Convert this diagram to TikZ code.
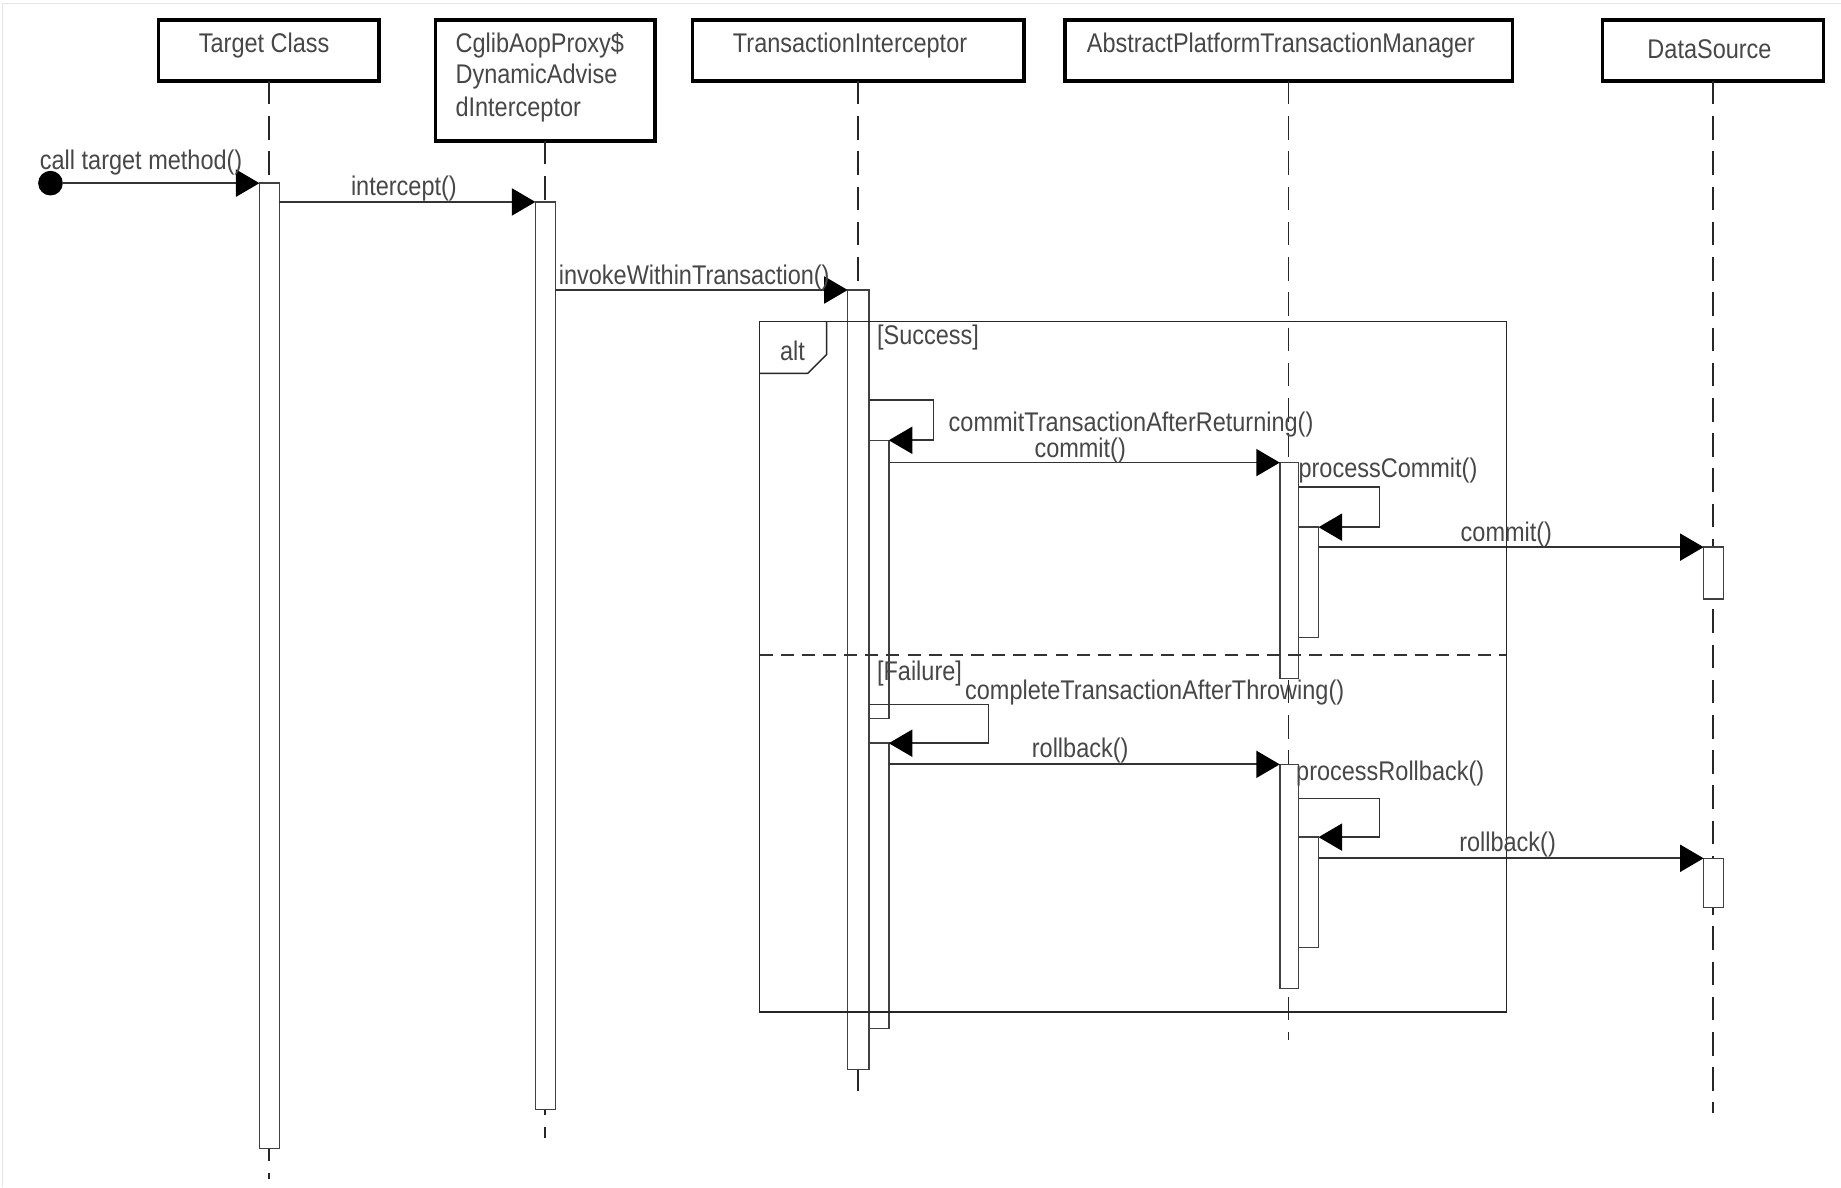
\documentclass[tikz,border=0pt]{standalone}
\usepackage{fontspec}
\setmainfont{Liberation Sans}[FakeStretch=0.87]
\usetikzlibrary{arrows.meta}
\begin{document}
\begin{tikzpicture}[x=1pt,y=-1pt,
  every node/.style={inner sep=0pt, outer sep=0pt},
  txt/.style={font=\fontsize{23}{27}\selectfont, text=black!72, yshift=-1.5pt},
  head/.style={draw=black, line width=3pt, fill=white, anchor=north west},
  bar/.style={draw=black!75, line width=1.3pt, fill=white, anchor=north west},
  life/.style={draw=black!85, line width=1.5pt, dash pattern=on 20pt off 10pt},
  msg/.style={draw=black!80, line width=1.5pt, -{Triangle[length=20pt,width=23pt,black]}},
  frm/.style={draw=black!85, line width=1.2pt},
  divider/.style={draw=black!80, line width=1.5pt, dash pattern=on 11pt off 7pt},
]
\useasboundingbox (0,0) rectangle (1568,1011);
\fill[white] (0,0) rectangle (1568,1011);
\draw[black!10, line width=1pt] (2,1011) -- (2,3) -- (1568,3);

% headers
\node[head, minimum width=188pt, minimum height=52pt] (tc) at (135,17) {};
\node[head, minimum width=187pt, minimum height=103pt] (cg) at (371,17) {};
\node[head, minimum width=282pt, minimum height=52pt] (ti) at (590,17) {};
\node[head, minimum width=381pt, minimum height=52pt] (ap) at (907,17) {};
\node[head, minimum width=188pt, minimum height=52pt] (ds) at (1365,17) {};
\node[txt] (tct) at (225,37) {Target Class};
\node[txt, anchor=west] (cg1) at (388,37) {CglibAopProxy\$};
\node[txt, anchor=west] (cg2) at (388,64) {DynamicAdvise};
\node[txt, anchor=west] (cg3) at (388,92) {dInterceptor};
\node[txt] (tit) at (724,37) {TransactionInterceptor};
\node[txt] (apt) at (1091,37) {AbstractPlatformTransactionManager};
\node[txt] (dst) at (1456,40) {DataSource};

% lifelines
\coordinate (tcend) at (229,1004);
\coordinate (cgend) at (464.5,969);
\coordinate (tiend) at (731,936);
\coordinate (apend) at (1097.5,886);
\coordinate (dsend) at (1459,948);
\draw[life] (tc.south) -- (tcend);
\draw[life] (cg.south) -- (cgend);
\draw[life] (ti.south) -- (tiend);
\draw[life] (ap.south) -- (apend);
\draw[life] (ds.south) -- (dsend);

% activation bars
\node[bar, minimum width=17pt, minimum height=822pt] (tb) at (221,156) {};
\node[bar, minimum width=17pt, minimum height=773pt] (cb) at (456,172) {};
\node[bar, minimum width=18pt, minimum height=664pt] (tib) at (722,247) {};
\node[bar, minimum width=17pt, minimum height=237pt] (tin1) at (740,375) {};
\node[bar, minimum width=17pt, minimum height=243pt] (tin2) at (740,633) {};
\node[bar, minimum width=16pt, minimum height=184pt] (ap1) at (1090,394) {};
\node[bar, minimum width=17pt, minimum height=94pt] (ap1n) at (1106,449) {};
\node[bar, minimum width=17pt, minimum height=44pt] (ds1) at (1451,466) {};
\node[bar, minimum width=16pt, minimum height=191pt] (ap2) at (1090,651) {};
\node[bar, minimum width=17pt, minimum height=94pt] (ap2n) at (1106,713) {};
\node[bar, minimum width=17pt, minimum height=42pt] (ds2) at (1451,731) {};

% messages
\node[circle, fill=black, minimum size=21pt] (start) at (43,156) {};
\draw[msg] (start) -- (tb.north west);
\draw[msg] (tb.east |- cb.north) -- (cb.north west);
\draw[msg] (cb.east |- tib.north) -- (tib.north west);

\coordinate (s1) at (740,341);
\draw[msg] (s1) -- ++(55,0) |- (tin1.north east);
\draw[msg] (tin1.east |- ap1.north) -- (ap1.north west);
\coordinate (s2) at (1106,415);
\draw[msg] (s2) -- ++(69,0) |- (ap1n.north east);
\draw[msg] (ap1n.east |- ds1.north) -- (ds1.north west);

\coordinate (s3) at (740,600);
\draw[msg] (s3) -- ++(102,0) |- (tin2.north east);
\draw[msg] (tin2.east |- ap2.north) -- (ap2.north west);
\coordinate (s4) at (1106,680);
\draw[msg] (s4) -- ++(69,0) |- (ap2n.north east);
\draw[msg] (ap2n.east |- ds2.north) -- (ds2.north west);

% alt frame
\draw[frm] (647,274) rectangle (1283,862);
\draw[frm] (704,274) -- (704,302) -- (688,318) -- (647,318);
\draw[divider] (647,558) -- (1283,558);

% labels
\node[txt, anchor=west] (l1) at (34,137) {call target method()};
\node[txt] (l2) at (344,159) {intercept()};
\node[txt, anchor=west] (l3) at (476,235) {invokeWithinTransaction()};
\node[txt] (lalt) at (675,297) {alt};
\node[txt, anchor=west] (lsucc) at (747,286) {[Success]};
\node[txt, anchor=west] (l4) at (808,360) {commitTransactionAfterReturning()};
\node[txt] (l5) at (920,382) {commit()};
\node[txt, anchor=west] (l6) at (1106,399) {processCommit()};
\node[txt] (l7) at (1283,454) {commit()};
\node[txt, anchor=west] (lfail) at (747,572) {[Failure]};
\node[txt, anchor=west] (l8) at (822,588) {completeTransactionAfterThrowing()};
\node[txt] (l9) at (920,638) {rollback()};
\node[txt, anchor=west] (l10) at (1104,657) {processRollback()};
\node[txt] (l11) at (1284,718) {rollback()};
\end{tikzpicture}
\end{document}
